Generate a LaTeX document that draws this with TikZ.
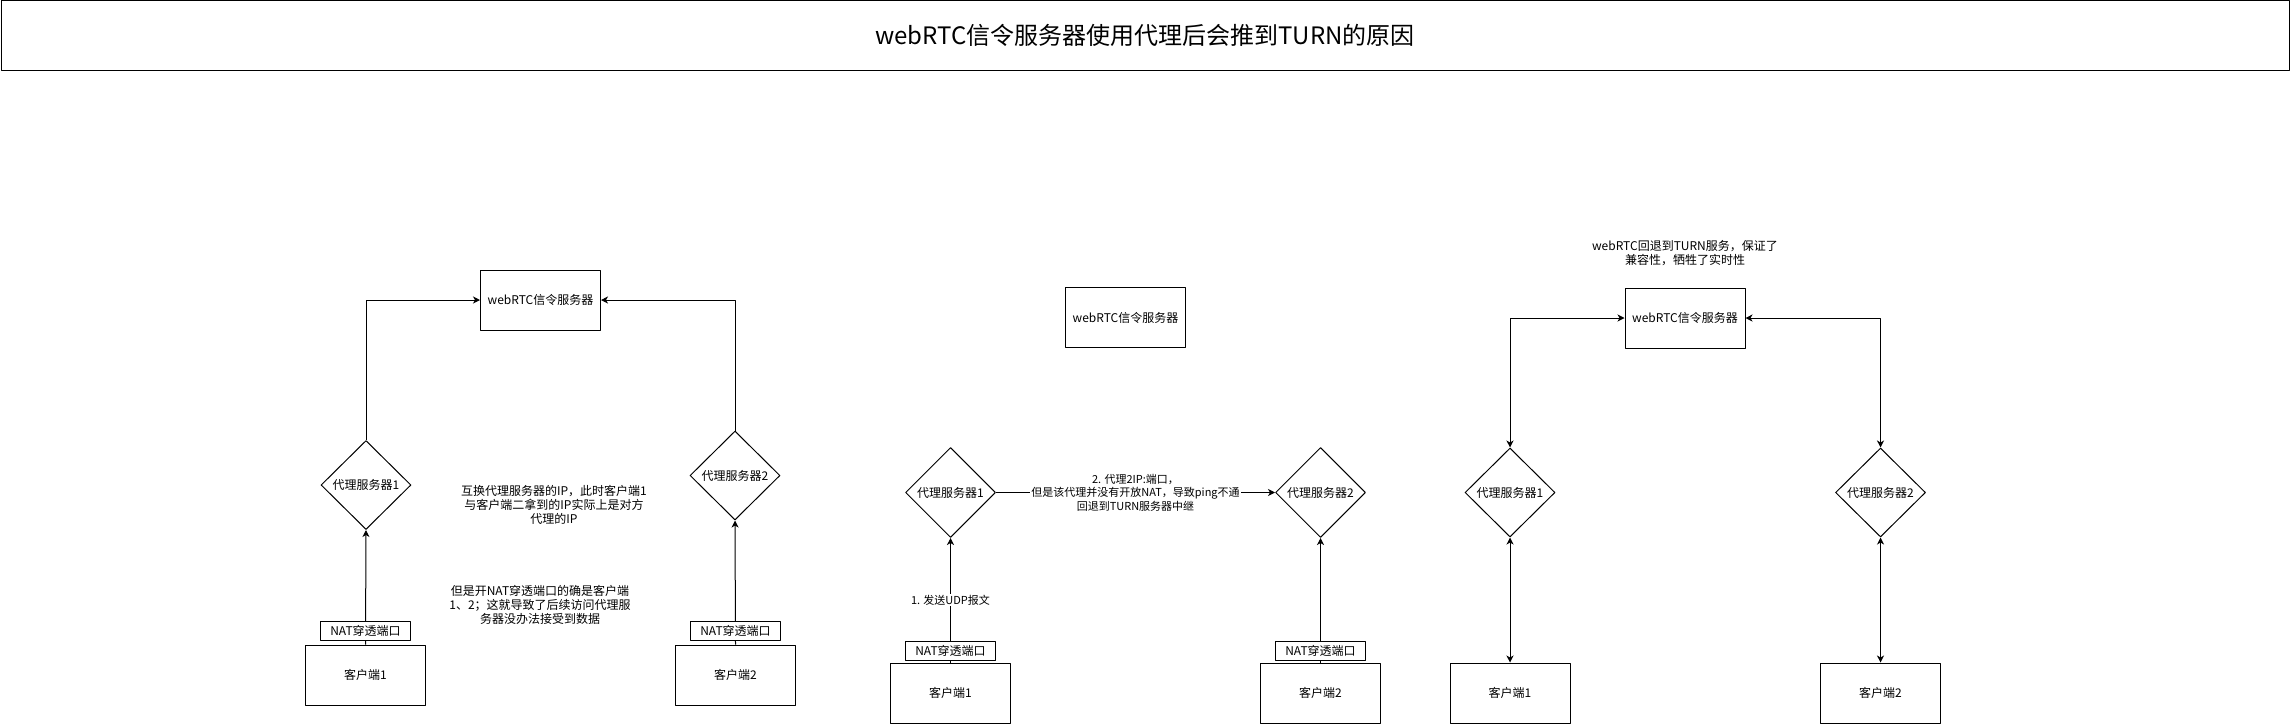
\documentclass[tikz,border=0pt]{standalone}
\usepackage{fontspec}
\setmainfont{Noto Sans CJK SC}
\usetikzlibrary{shapes.geometric,arrows.meta}

\tikzset{
  box/.style={draw, line width=1pt, minimum width=120pt, minimum height=60pt,
    inner sep=1pt, font=\fontsize{12}{14}\selectfont},
  natbox/.style={draw, fill=white, line width=1pt, minimum width=90pt,
    minimum height=19pt, inner sep=1pt, font=\fontsize{12}{14}\selectfont},
  proxy/.style={diamond, draw, line width=1pt, minimum width=90pt,
    minimum height=89pt, inner sep=0pt},
  every label/.style={font=\fontsize{12}{14}\selectfont, inner sep=0pt},
  note/.style={align=center, inner sep=0pt, font=\fontsize{12}{14}\selectfont},
  edgetext/.style={fill=white, align=center, inner sep=1pt,
    font=\fontsize{11}{13.5}\selectfont},
  arr/.style={line width=1pt, -{Stealth[length=7pt,width=7pt,inset=2pt]}},
  dbl/.style={line width=1pt,
    {Stealth[length=7pt,width=7pt,inset=2pt]}-{Stealth[length=7pt,width=7pt,inset=2pt]}},
}

\begin{document}
\begin{tikzpicture}[x=1pt,y=-1pt, line join=round]

  \useasboundingbox (0,0) rectangle (2291,724);

  % ---- title --------------------------------------------------------------
  \node[draw, line width=1pt, minimum width=2288pt, minimum height=69.5pt,
    font=\fontsize{24}{28}\selectfont] (title) at (1145,35.5)
    {webRTC信令服务器使用代理后会推到TURN的原因};

  % ---- case 1: proxies swap IPs -------------------------------------------
  \node[box] (srvA) at (540.5,300) {webRTC信令服务器};
  \node[proxy, label=center:代理服务器1] (pA1) at (366,485) {};
  \node[proxy, label=center:代理服务器2] (pA2) at (735,475.5) {};
  \node[box] (cA1) at (365.5,675) {客户端1};
  \node[box] (cA2) at (735.5,675) {客户端2};

  \draw[arr] (pA1.north) |- (srvA.west);
  \draw[arr] (pA2.north) |- (srvA.east);
  \draw[arr] (cA1.north) -- (pA1.south);
  \draw[arr] (cA2.north) -- (pA2.south);

  \node[natbox] (natA1) at (365.5,630.5) {NAT穿透端口};
  \node[natbox] (natA2) at (735.5,630.5) {NAT穿透端口};

  \node[note] (noteA) at (554,505)
    {互换代理服务器的IP，此时客户端1\\与客户端二拿到的IP实际上是对方\\代理的IP};
  \node[note] (noteB) at (540,605)
    {但是开NAT穿透端口的确是客户端\\1、2；这就导致了后续访问代理服\\务器没办法接受到数据};

  % ---- case 2: ping fails -------------------------------------------------
  \node[box] (srvB) at (1125.5,317.5) {webRTC信令服务器};
  \node[proxy, minimum height=90pt, label=center:代理服务器1] (pB1) at (950.5,492.5) {};
  \node[proxy, minimum height=90pt, label=center:代理服务器2] (pB2) at (1320.5,492.5) {};
  \node[box] (cB1) at (950.5,693) {客户端1};
  \node[box] (cB2) at (1320.5,693) {客户端2};

  \draw[arr] (cB1.north) -- node[edgetext] (udp) {1. 发送UDP报文} (pB1.south);
  \draw[arr] (cB2.north) -- (pB2.south);
  \draw[arr] (pB1.east) -- node[edgetext] (ping)
    {2. 代理2IP:端口，\\但是该代理并没有开放NAT，导致ping不通\\回退到TURN服务器中继} (pB2.west);

  \node[natbox] (natB1) at (950.5,650.5) {NAT穿透端口};
  \node[natbox] (natB2) at (1320.5,650.5) {NAT穿透端口};

  % ---- case 3: fall back to TURN ------------------------------------------
  \node[box] (srvC) at (1685,318) {webRTC信令服务器};
  \node[proxy, label=center:代理服务器1] (pC1) at (1510,492.5) {};
  \node[proxy, label=center:代理服务器2] (pC2) at (1880.5,492.5) {};
  \node[box] (cC1) at (1510,693) {客户端1};
  \node[box] (cC2) at (1880.5,693) {客户端2};

  \draw[dbl] (srvC.west) -| (pC1.north);
  \draw[dbl] (srvC.east) -| (pC2.north);
  \draw[dbl] (pC1.south) -- (cC1.north);
  \draw[dbl] (pC2.south) -- (cC2.north);

  \node[note] (noteC) at (1685,253.5)
    {webRTC回退到TURN服务，保证了\\兼容性，牺牲了实时性};

\end{tikzpicture}
\end{document}
